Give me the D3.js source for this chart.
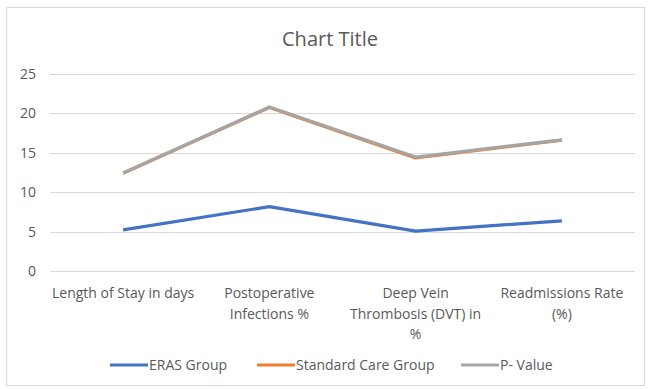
<!DOCTYPE html>
<html>
<head>
<meta charset="utf-8">
<script src="https://cdn.jsdelivr.net/npm/d3@7"></script>
<style>
  html, body { margin: 0; padding: 0; background: #fff; }
  svg { display: block; font-family: "Open Sans", "Noto Sans", sans-serif; }
</style>
</head>
<body>
<svg id="chart" width="648" height="389"></svg>
<script>
const categories = [
  ['Length of Stay in days'],
  ['Postoperative', 'Infections %'],
  ['Deep Vein', 'Thrombosis (DVT) in', '%'],
  ['Readmissions Rate', '(%)']
]
const seriesNames = ['ERAS Group', 'Standard Care Group', 'P- Value']
const erasGroup = [5.2, 8.15, 5.05, 6.35]
const standardCare = [12.38, 20.7, 14.3, 16.56]
const pValue = [12.4, 20.75, 14.42, 16.6]
const yTicks = [0, 5, 10, 15, 20, 25]
const colors = ['#4472C4', '#ED7D31', '#A5A5A5']

const svg = d3.select('#chart')
const textColor = '#595959'

// chart area border
svg.append('rect')
  .attr('x', 6.5).attr('y', 7.5)
  .attr('width', 638).attr('height', 378)
  .attr('fill', '#fff')
  .attr('stroke', '#d9d9d9')

svg.append('text')
  .attr('x', 330).attr('y', 46)
  .attr('text-anchor', 'middle')
  .attr('font-size', 20)
  .attr('fill', textColor)
  .text('Chart Title')

const x = d3.scaleBand()
  .domain(d3.range(categories.length))
  .range([50, 635])

const y = d3.scaleLinear()
  .domain([0, 25])
  .range([271, 73.5])

// gridlines
svg.append('g')
  .selectAll('line')
  .data(yTicks)
  .enter().append('line')
  .attr('x1', 50).attr('x2', 635)
  .attr('y1', d => Math.round(y(d)) + 0.5)
  .attr('y2', d => Math.round(y(d)) + 0.5)
  .attr('stroke', '#d9d9d9')
  .attr('stroke-width', 1)

// y axis labels
svg.append('g')
  .selectAll('text')
  .data(yTicks)
  .enter().append('text')
  .attr('x', 36)
  .attr('y', d => y(d) + 5)
  .attr('text-anchor', 'end')
  .attr('font-size', 14)
  .attr('fill', textColor)
  .text(d => d)

// x axis labels
const xl = svg.append('g')
  .selectAll('text')
  .data(categories)
  .enter().append('text')
  .attr('x', (d, i) => x(i) + x.bandwidth() / 2)
  .attr('y', 298)
  .attr('text-anchor', 'middle')
  .attr('font-size', 14)
  .attr('fill', textColor)

xl.selectAll('tspan')
  .data((d, i) => d.map(t => ({ t, i })))
  .enter().append('tspan')
  .attr('x', d => x(d.i) + x.bandwidth() / 2)
  .attr('dy', (d, j) => j === 0 ? 0 : 20.5)
  .text(d => d.t)

// lines
const line = d3.line()
  .x((d, i) => x(i) + x.bandwidth() / 2)
  .y(d => y(d))

const allSeries = [erasGroup, standardCare, pValue]
svg.append('g')
  .selectAll('path')
  .data(allSeries)
  .enter().append('path')
  .attr('d', d => line(d))
  .attr('fill', 'none')
  .attr('stroke', (d, i) => colors[i])
  .attr('stroke-width', 3.2)
  .attr('stroke-linejoin', 'round')

// legend
const legendX = [110, 257, 461]
const lg = svg.append('g')
  .selectAll('g')
  .data(seriesNames)
  .enter().append('g')
  .attr('transform', (d, i) => `translate(${legendX[i]},365)`)

lg.append('line')
  .attr('x1', 0).attr('x2', 38)
  .attr('y1', 0).attr('y2', 0)
  .attr('stroke', (d, i) => colors[i])
  .attr('stroke-width', 3.2)

lg.append('text')
  .attr('x', 39)
  .attr('y', 5)
  .attr('font-size', 14)
  .attr('fill', textColor)
  .text(d => d)
</script>
</body>
</html>
